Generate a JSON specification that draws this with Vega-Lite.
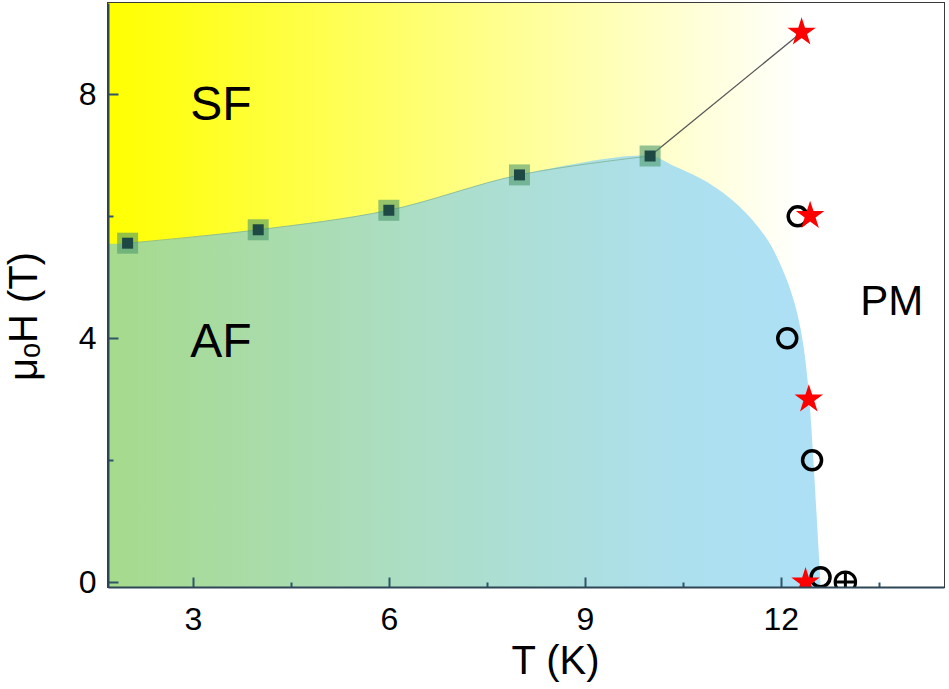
{
  "$schema": "https://vega.github.io/schema/vega-lite/v6.json",
  "width": 836,
  "height": 584,
  "autosize": "none",
  "padding": {"left": 108, "top": 3, "right": 5, "bottom": 102},
  "background": "white",
  "config": {
    "view": {"stroke": "#3a3a3a", "strokeWidth": 2},
    "font": "Liberation Sans",
    "axis": {
      "grid": false,
      "labelFont": "Liberation Sans",
      "titleFont": "Liberation Sans",
      "labelColor": "black",
      "titleColor": "black",
      "labelFontSize": 32,
      "titleFontSize": 40,
      "titleFontWeight": "normal",
      "domainColor": "#2f4656",
      "domainWidth": 2,
      "tickColor": "#2f5566",
      "tickWidth": 2
    }
  },
  "datasets": {
    "boundary": [
      {"T": 1.7, "H": 5.55},
      {"T": 2, "H": 5.56},
      {"T": 4, "H": 5.78},
      {"T": 6, "H": 6.1},
      {"T": 8, "H": 6.68},
      {"T": 10, "H": 6.99},
      {"T": 10.34, "H": 6.84},
      {"T": 10.86, "H": 6.57},
      {"T": 11.36, "H": 6.17},
      {"T": 11.77, "H": 5.66},
      {"T": 12.02, "H": 5.15},
      {"T": 12.2, "H": 4.62},
      {"T": 12.33, "H": 4.0},
      {"T": 12.43, "H": 3.1},
      {"T": 12.5, "H": 2.0},
      {"T": 12.56, "H": 0.9},
      {"T": 12.6, "H": 0.15},
      {"T": 12.61, "H": -0.08}
    ],
    "region": [{"T0": 1.7, "T1": 14.5, "H0": -0.08, "H1": 9.5}],
    "squares": [
      {"T": 2, "H": 5.56},
      {"T": 4, "H": 5.78},
      {"T": 6, "H": 6.1},
      {"T": 8, "H": 6.68},
      {"T": 10, "H": 6.99}
    ],
    "link": [
      {"T": 10, "H": 6.99},
      {"T": 12.32, "H": 9.02}
    ],
    "stars": [
      {"T": 12.32, "H": 9.02},
      {"T": 12.45, "H": 6.01},
      {"T": 12.43, "H": 3.0},
      {"T": 12.38, "H": 0.0}
    ],
    "circles": [
      {"T": 12.26, "H": 6.0},
      {"T": 12.1, "H": 4.0},
      {"T": 12.48, "H": 2.0},
      {"T": 12.61, "H": 0.08}
    ],
    "crossed": [{"T": 12.99, "H": 0.0}],
    "labels": [
      {"T": 3.43, "H": 7.81, "label": "SF"},
      {"T": 3.43, "H": 3.92, "label": "AF"},
      {"T": 13.7, "H": 4.6, "label": "PM"}
    ]
  },
  "encoding": {
    "x": {
      "field": "T", "type": "quantitative",
      "scale": {"domain": [1.7, 14.5], "nice": false, "zero": false},
      "axis": {
        "zindex": 1,
        "title": "T (K)",
        "values": [3, 4.5, 6, 7.5, 9, 10.5, 12, 13.5],
        "labelExpr": "datum.value % 3 === 0 ? datum.label : ''",
        "tickSize": {"condition": {"test": "datum.value % 3 !== 0", "value": -5}, "value": -10},
        "labelPadding": 27,
        "titleX": 447,
        "titleY": 86,
        "titleBaseline": "alphabetic",
        "titleAnchor": null,
        "titleAlign": "center"
      }
    },
    "y": {
      "field": "H", "type": "quantitative",
      "scale": {"domain": [-0.08, 9.5], "nice": false, "zero": false},
      "axis": {
        "zindex": 1,
        "title": "μₒH (T)",
        "values": [0, 2, 4, 6, 8],
        "labelExpr": "datum.value % 4 === 0 ? datum.label : ''",
        "tickSize": {"condition": {"test": "datum.value % 4 !== 0", "value": -5}, "value": -10},
        "labelPadding": 22,
        "titleX": -72,
        "titleY": 313,
        "titleBaseline": "alphabetic",
        "titleAlign": "center",
        "titleAngle": -90
      }
    }
  },
  "layer": [
    {
      "data": {"name": "region"},
      "mark": {
        "type": "rect",
        "fill": {
          "gradient": "linear", "x1": 0, "y1": 0, "x2": 1, "y2": 0,
          "stops": [
            {"offset": 0, "color": "#ffff00"},
            {"offset": 0.4, "color": "#ffff7a"},
            {"offset": 0.83, "color": "#ffffff"},
            {"offset": 1, "color": "#ffffff"}
          ]
        }
      },
      "encoding": {
        "x": {"field": "T0", "type": "quantitative"},
        "x2": {"field": "T1"},
        "y": {"field": "H0", "type": "quantitative"},
        "y2": {"field": "H1"}
      }
    },
    {
      "data": {"name": "boundary"},
      "mark": {
        "type": "area",
        "interpolate": "catmull-rom",
        "clip": true,
        "fill": {
          "gradient": "linear", "x1": 0, "y1": 0, "x2": 1, "y2": 0,
          "stops": [
            {"offset": 0, "color": "#a6da8c"},
            {"offset": 0.45, "color": "#acdec8"},
            {"offset": 0.8, "color": "#ade0ee"},
            {"offset": 1, "color": "#ade0f6"}
          ]
        }
      },
      "encoding": {
        "y2": {"datum": -0.08}
      }
    },
    {
      "data": {"name": "squares"},
      "mark": {"type": "line", "interpolate": "catmull-rom", "color": "#7db39a", "strokeWidth": 1, "opacity": 0.8},
      "encoding": {}
    },
    {
      "data": {"name": "link"},
      "mark": {"type": "line", "color": "#555555", "strokeWidth": 1.3},
      "encoding": {}
    },
    {
      "data": {"name": "squares"},
      "mark": {"type": "point", "shape": "square", "filled": true, "size": 441, "color": "#4e9a6e", "opacity": 0.6},
      "encoding": {}
    },
    {
      "data": {"name": "squares"},
      "mark": {"type": "point", "shape": "square", "filled": true, "size": 121, "color": "#1d4843", "opacity": 1},
      "encoding": {}
    },
    {
      "data": {"name": "circles"},
      "mark": {"type": "point", "shape": "circle", "filled": false, "size": 360, "color": "black", "strokeWidth": 3.5, "opacity": 1, "clip": true},
      "encoding": {}
    },
    {
      "data": {"name": "crossed"},
      "mark": {"type": "point", "shape": "M-1,0A1,1,0,1,1,1,0A1,1,0,1,1,-1,0ZM-1,0L1,0M0,-1L0,1", "filled": false, "size": 420, "color": "black", "strokeWidth": 3, "opacity": 1, "clip": true},
      "encoding": {}
    },
    {
      "data": {"name": "stars"},
      "mark": {"type": "point", "shape": "M0,-1L0.225,-0.309L0.951,-0.309L0.363,0.118L0.588,0.809L0,0.382L-0.588,0.809L-0.363,0.118L-0.951,-0.309L-0.225,-0.309Z", "filled": true, "size": 900, "color": "#ff0000", "opacity": 1, "clip": true},
      "encoding": {}
    },
    {
      "data": {"name": "labels"},
      "transform": [{"filter": "datum.label !== 'PM'"}],
      "mark": {"type": "text", "fontSize": 48, "font": "Liberation Sans", "color": "black", "baseline": "middle", "align": "center"},
      "encoding": {"text": {"field": "label"}}
    },
    {
      "data": {"name": "labels"},
      "transform": [{"filter": "datum.label === 'PM'"}],
      "mark": {"type": "text", "fontSize": 42, "font": "Liberation Sans", "color": "black", "baseline": "middle", "align": "center"},
      "encoding": {"text": {"field": "label"}}
    }
  ]
}
